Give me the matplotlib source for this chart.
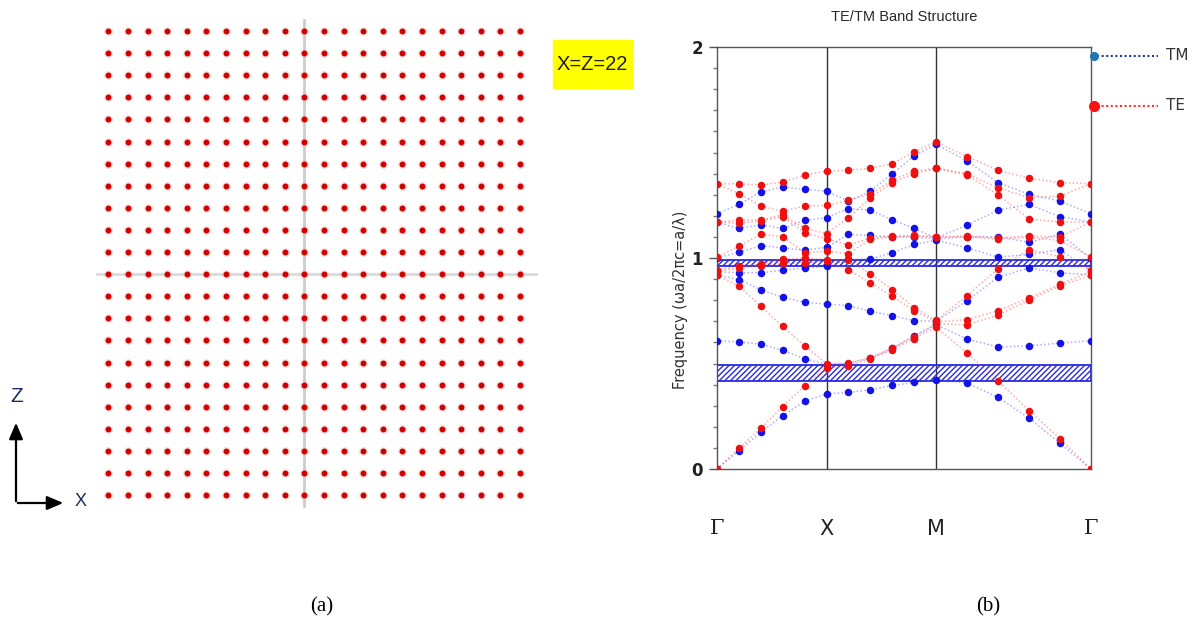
import numpy as np
import matplotlib
matplotlib.use('Agg')
import matplotlib.pyplot as plt
from matplotlib.patches import Rectangle, FancyArrowPatch
from matplotlib.lines import Line2D
from matplotlib.ticker import MultipleLocator

# ---------------- data ----------------
n_cols = 22
n_rows = 22
mark_col = 10
mark_row = 11
lattice_label = "X=Z=22"

k_labels = ['Γ', 'X', 'M', 'Γ']
seg_lengths = [1.0, 1.0, np.sqrt(2)]
n_per_seg = 5

gap_lower = (0.418, 0.494)
gap_upper = (0.964, 0.990)

TM1 = [0, 0.087, 0.173, 0.253, 0.321, 0.356, 0.363, 0.375, 0.396, 0.410, 0.423, 0.407, 0.340, 0.241, 0.122, 0]
TM2 = [0.608, 0.602, 0.592, 0.562, 0.523, 0.495, 0.500, 0.525, 0.572, 0.632, 0.685, 0.616, 0.578, 0.584, 0.597, 0.608]
TM3 = [0.920, 0.898, 0.850, 0.814, 0.790, 0.782, 0.774, 0.747, 0.727, 0.703, 0.700, 0.798, 0.909, 0.953, 0.930, 0.920]
TM4 = [0.935, 0.930, 0.930, 0.942, 0.953, 0.961, 0.993, 0.996, 1.025, 1.064, 1.085, 1.048, 1.004, 1.017, 1.040, 0.935]
TM5 = [1.000, 1.028, 1.058, 1.048, 1.037, 1.050, 1.112, 1.107, 1.100, 1.098, 1.091, 1.100, 1.100, 1.075, 1.112, 1.000]
TM6 = [1.170, 1.140, 1.158, 1.140, 1.178, 1.191, 1.234, 1.227, 1.180, 1.140, 1.095, 1.156, 1.227, 1.254, 1.196, 1.170]
TM7 = [1.210, 1.254, 1.314, 1.337, 1.325, 1.317, 1.270, 1.317, 1.400, 1.484, 1.539, 1.460, 1.357, 1.302, 1.270, 1.210]

TE1 = [0, 0.098, 0.193, 0.296, 0.394, 0.478, 0.490, 0.520, 0.566, 0.618, 0.673, 0.549, 0.418, 0.277, 0.143, 0]
TE2 = [0.918, 0.866, 0.771, 0.676, 0.584, 0.499, 0.502, 0.528, 0.573, 0.626, 0.688, 0.684, 0.730, 0.800, 0.868, 0.918]
TE3 = [0.937, 0.953, 0.964, 0.974, 0.977, 0.985, 0.945, 0.882, 0.819, 0.750, 0.697, 0.708, 0.750, 0.811, 0.876, 0.937]
TE4 = [0.945, 0.960, 0.970, 0.996, 1.000, 0.992, 0.990, 0.926, 0.850, 0.765, 0.705, 0.822, 0.949, 1.040, 1.006, 0.945]
TE5 = [1.004, 1.056, 1.112, 1.101, 1.025, 1.032, 1.021, 1.088, 1.100, 1.104, 1.100, 1.100, 1.090, 1.098, 1.083, 1.004]
TE6 = [1.170, 1.165, 1.175, 1.196, 1.120, 1.091, 1.061, 1.095, 1.104, 1.108, 1.100, 1.105, 1.096, 1.104, 1.100, 1.170]
TE7 = [1.170, 1.180, 1.180, 1.205, 1.140, 1.116, 1.191, 1.286, 1.357, 1.400, 1.425, 1.393, 1.299, 1.186, 1.170, 1.170]
TE8 = [1.352, 1.305, 1.246, 1.222, 1.246, 1.249, 1.273, 1.302, 1.370, 1.412, 1.425, 1.400, 1.333, 1.286, 1.294, 1.352]
TE9 = [1.352, 1.352, 1.346, 1.360, 1.393, 1.412, 1.416, 1.425, 1.447, 1.503, 1.550, 1.481, 1.416, 1.378, 1.357, 1.352]

TM_bands = [TM1, TM2, TM3, TM4, TM5, TM6, TM7]
TE_bands = [TE1, TE2, TE3, TE4, TE5, TE6, TE7, TE8, TE9]

# ---------------- figure ----------------
W, H = 1199, 627
fig = plt.figure(figsize=(W / 100, H / 100), dpi=100)


def fx(px):
    return px / W


def fy(py):
    return 1 - py / H


def box(l, t, r, b):
    return [fx(l), fy(b), fx(r) - fx(l), fy(t) - fy(b)]


# ---- panel (a): lattice ----
col0, dcol = 108.3, 19.6
row0, drow = 31.0, 22.1
L, R, T, B = 90, 540, 15, 510
ax1 = fig.add_axes(box(L, T, R, B))
ax1.set_xlim((L - col0) / dcol, (R - col0) / dcol)
ax1.set_ylim((B - row0) / drow, (T - row0) / drow)
ax1.axis('off')
ax1.plot([mark_col, mark_col], [-0.5, n_rows - 0.5], color='#cdcdcd', lw=2, zorder=1)
ax1.plot([-0.57, n_cols - 0.2], [mark_row, mark_row], color='#dadada', lw=2, zorder=1)
ii, jj = np.meshgrid(np.arange(n_cols), np.arange(n_rows))
ax1.scatter(ii.ravel(), jj.ravel(), s=40, color='#e8a0a0', alpha=0.35, lw=0, zorder=2)
ax1.scatter(ii.ravel(), jj.ravel(), s=18, color='#d00000', lw=0, zorder=3)

# label box
fig.patches.append(Rectangle((fx(553), fy(88)), fx(632) - fx(553), fy(40) - fy(88),
                             transform=fig.transFigure, color='#ffff00', zorder=0))
fig.text(fx(592.5), fy(65), lattice_label, ha='center', va='center', fontsize=14.5,
         family=['Liberation Sans Narrow', 'Liberation Sans'], color='#202020')

# axes arrows
fig.add_artist(FancyArrowPatch((fx(16), fy(504)), (fx(16), fy(420)),
               transform=fig.transFigure, arrowstyle='-|>,head_length=0.7,head_width=0.3',
               mutation_scale=14, color='black', lw=1.6))
fig.add_artist(FancyArrowPatch((fx(15), fy(503)), (fx(66), fy(503)),
               transform=fig.transFigure, arrowstyle='-|>,head_length=0.7,head_width=0.3',
               mutation_scale=14, color='black', lw=1.6))
fig.text(fx(17), fy(397), 'Z', ha='center', va='center', fontsize=15,
         family=['Liberation Sans Narrow', 'Liberation Sans'], color='#1c2a60')
fig.text(fx(81), fy(501), 'X', ha='center', va='center', fontsize=13,
         family=['Liberation Sans Narrow', 'Liberation Sans'], color='#1c2a60')

# ---- panel (b): band structure ----
k_sym = np.concatenate([[0], np.cumsum(seg_lengths)])
k = [0.0]
for a, b in zip(k_sym[:-1], k_sym[1:]):
    k.extend(list(np.linspace(a, b, n_per_seg + 1)[1:]))
k = np.array(k)

ax2 = fig.add_axes(box(717, 47, 1091, 469))
ax2.set_xlim(k_sym[0], k_sym[-1])
ax2.set_ylim(0, 2)

for lo, hi in [gap_lower, gap_upper]:
    ax2.add_patch(Rectangle((k_sym[0], lo), k_sym[-1] - k_sym[0], hi - lo, facecolor='none',
                            edgecolor='#2a2ae0', hatch='//////', lw=1.3, zorder=2))

for xv in k_sym[1:-1]:
    ax2.axvline(xv, color='#333333', lw=1, zorder=1)

for band in TM_bands:
    ax2.plot(k, band, ls=(0, (1, 1.5)), lw=1.1, color='#4848ff', alpha=0.45, zorder=3)
for band in TE_bands:
    ax2.plot(k, band, ls=(0, (1, 1.5)), lw=1.1, color='#ff4040', alpha=0.45, zorder=3)
for band in TM_bands:
    ax2.plot(k, band, ls='none', marker='o', ms=4.4, color='#1212e8', zorder=4)
for band in TE_bands:
    ax2.plot(k, band, ls='none', marker='o', ms=4.4, color='#ee1010', zorder=5)

for s in ax2.spines.values():
    s.set_color('#555555')
    s.set_linewidth(1)

ax2.set_yticks([0, 1, 2])
ax2.set_yticklabels(['0', '1', '2'], fontsize=12, fontweight='bold', color='#222222')
ax2.yaxis.set_minor_locator(MultipleLocator(0.1))
ax2.tick_params(axis='y', which='major', direction='out', length=6, width=1, color='#555555', pad=4)
ax2.tick_params(axis='y', which='minor', direction='out', length=3, width=1, color='#777777')
ax2.set_xticks(k_sym)
ax2.set_xticklabels(k_labels, fontsize=15, color='#222222')
ax2.tick_params(axis='x', which='both', length=0, pad=36)
for lbl in ax2.get_xticklabels():
    if lbl.get_text() == 'Γ':
        lbl.set_family('DejaVu Serif')

fig.text(fx(681), fy(300), 'Frequency (ωa/2πc=a/λ)', rotation=90, ha='center', va='center',
         fontsize=10.5, color='#333333')
fig.text(fx(904), fy(17), 'TE/TM Band Structure', ha='center', va='center', fontsize=10.5,
         color='#2a2a2a', family=['Liberation Sans Narrow', 'Liberation Sans'])

# legend (outside right)
for yy, mcol, lcol, txt, ms in [(56, '#1f77b4', '#1f3a93', 'TM', 5.5), (106, '#ff1010', '#ff3030', 'TE', 7)]:
    fig.add_artist(Line2D([fx(1097), fx(1158)], [fy(yy), fy(yy)], transform=fig.transFigure,
                          ls=(0, (1, 1.2)), lw=1.5, color=lcol))
    fig.add_artist(Line2D([fx(1094)], [fy(yy)], transform=fig.transFigure, marker='o', ms=ms,
                          color=mcol, ls='none'))
    fig.text(fx(1166), fy(yy), txt, ha='left', va='center', fontsize=11, color='#333333')

# captions
fig.text(fx(322), fy(607), '(a)', ha='center', va='center', fontsize=15, family='Liberation Serif')
fig.text(fx(988), fy(607), '(b)', ha='center', va='center', fontsize=15, family='Liberation Serif')

fig.savefig('out.png', dpi=100)
